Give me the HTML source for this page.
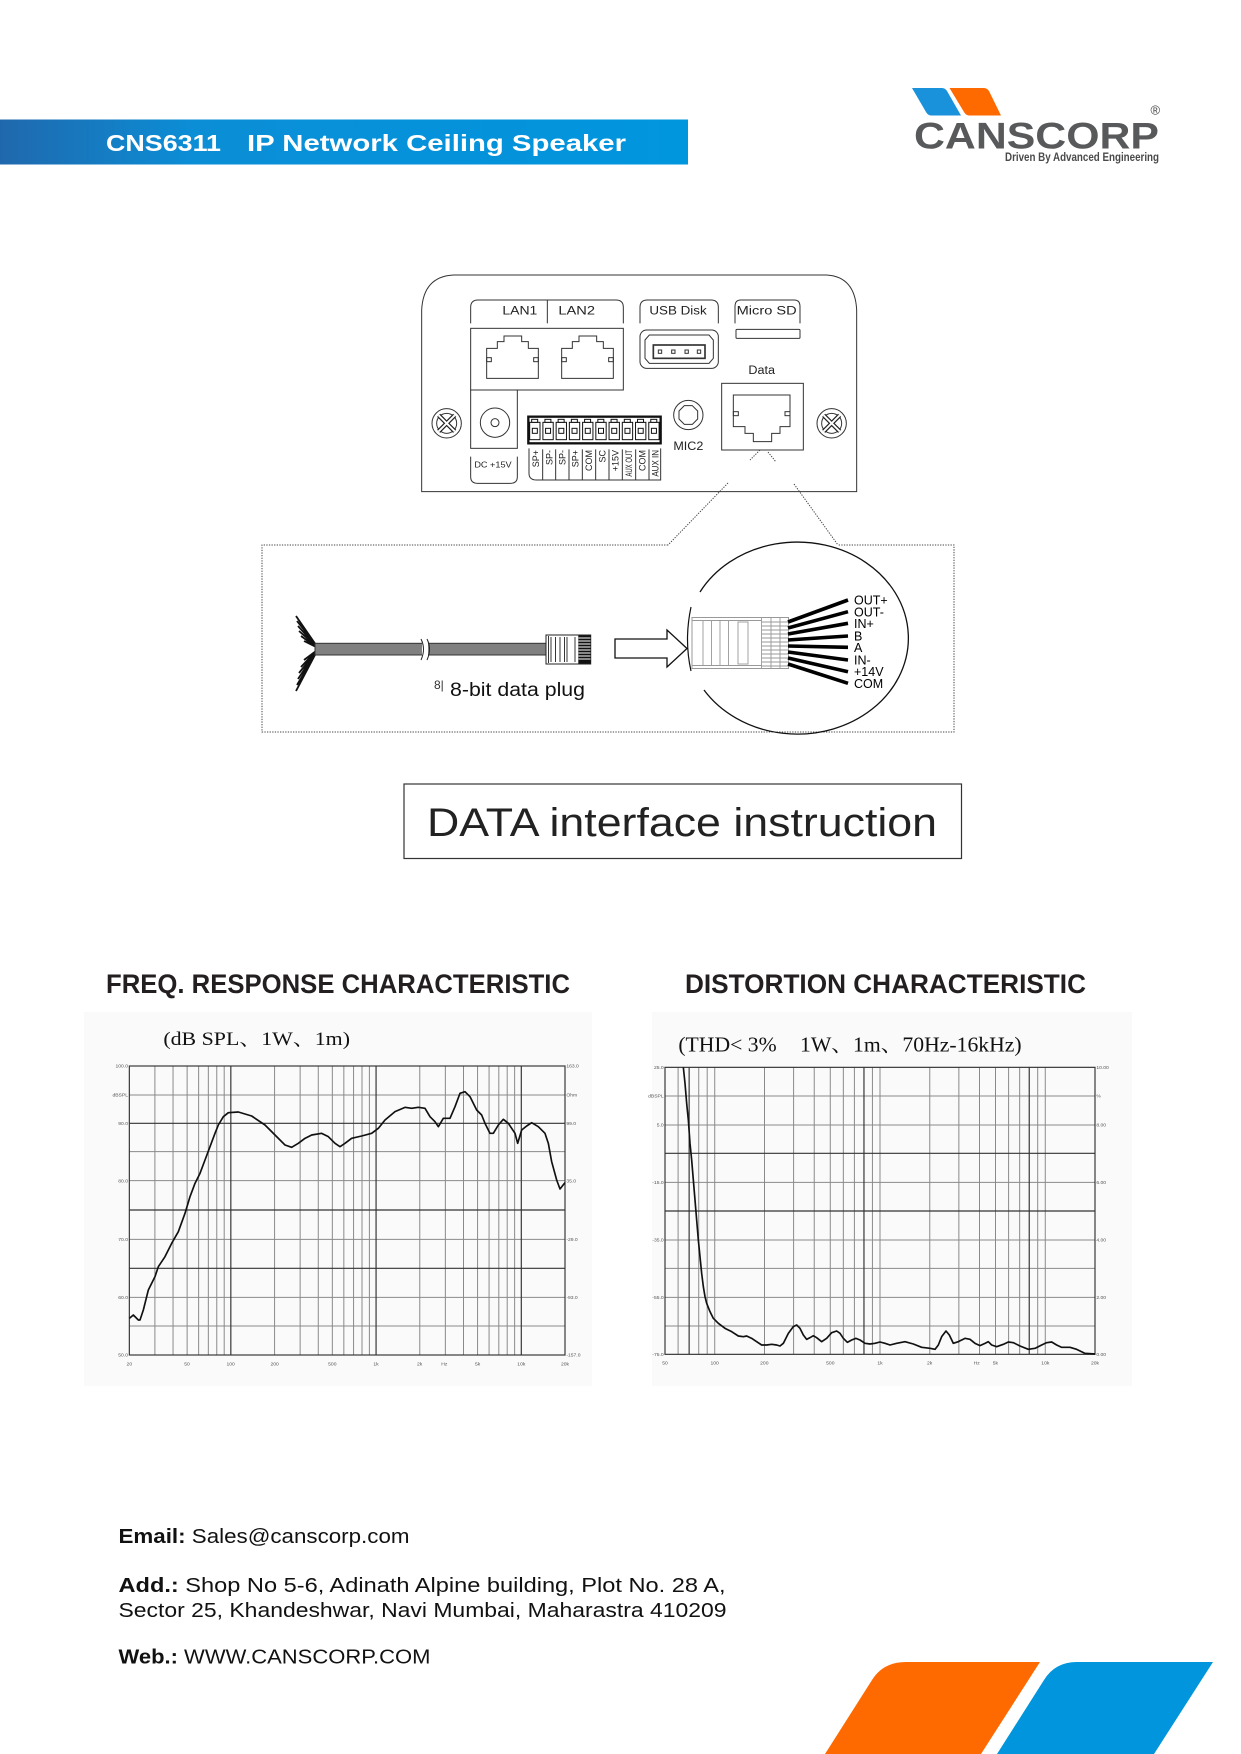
<!DOCTYPE html>
<html><head><meta charset="utf-8"><title>CNS6311 IP Network Ceiling Speaker</title>
<style>
html,body{margin:0;padding:0;background:#fff;}
svg{display:block;}
</style></head>
<body>
<svg xmlns="http://www.w3.org/2000/svg" width="1241" height="1754" viewBox="0 0 1241 1754" font-family="'Liberation Sans', Arial, sans-serif">
<defs>
<linearGradient id="bn" x1="0" y1="0" x2="1" y2="0">
<stop offset="0" stop-color="#2068ad"/>
<stop offset="0.28" stop-color="#0b8ed6"/>
<stop offset="1" stop-color="#0096de"/>
</linearGradient>
</defs>
<rect width="1241" height="1754" fill="#fff"/>

<!-- Header banner -->
<rect x="0" y="119.5" width="688" height="45" fill="url(#bn)"/>
<text x="106" y="151" font-size="23" font-weight="bold" fill="#fff" textLength="115" lengthAdjust="spacingAndGlyphs">CNS6311</text>
<text x="247" y="151" font-size="23" font-weight="bold" fill="#fff" textLength="379" lengthAdjust="spacingAndGlyphs">IP Network Ceiling Speaker</text>

<!-- Logo -->
<path d="M912,88 L942,88 Q945,88 947,91 L961,115.5 L931,115.5 Q928,115.5 926,112 Z" fill="#1a92db"/>
<path d="M949.5,88 L984,88 Q987,88 989,91 L1001,115.5 L969,115.5 Q966,115.5 964,112 Z" fill="#ff6a00"/>
<text x="914" y="148.3" font-size="37" font-weight="bold" fill="#58595b" textLength="245" lengthAdjust="spacingAndGlyphs">CANSCORP</text>
<text x="1150.5" y="114.5" font-size="13" fill="#444">®</text>
<text x="1005" y="161" font-size="11.5" font-weight="bold" fill="#4a4a4a" textLength="154" lengthAdjust="spacingAndGlyphs">Driven By Advanced Engineering</text>

<!-- Panel diagram (zoom coords: orig = 410 + z/3, 260 + z/3) -->
<g transform="translate(410,260) scale(0.333333)" fill="none" stroke="#333" stroke-width="3">
<path d="M35,695 L35,150 Q40,50 130,45 L1250,45 Q1335,50 1340,150 L1340,695 Z"/>
<!-- LAN bracket -->
<path d="M182,190 L182,142 Q182,120 204,120 L618,120 Q640,120 640,142 L640,190"/>
<line x1="412" y1="120" x2="412" y2="190"/>
<g fill="#222" stroke="none" font-size="36">
<text x="277" y="163" textLength="105" lengthAdjust="spacingAndGlyphs">LAN1</text>
<text x="445" y="163" textLength="110" lengthAdjust="spacingAndGlyphs">LAN2</text>
<text x="718" y="163" textLength="172" lengthAdjust="spacingAndGlyphs">USB Disk</text>
<text x="980" y="163" textLength="180" lengthAdjust="spacingAndGlyphs">Micro SD</text>
<text x="1015" y="342" textLength="80" lengthAdjust="spacingAndGlyphs">Data</text>
<text x="790" y="570" textLength="90" lengthAdjust="spacingAndGlyphs">MIC2</text>
<text x="193" y="622" font-size="26" textLength="112" lengthAdjust="spacingAndGlyphs">DC +15V</text>
</g>
<rect x="182" y="205" width="458" height="185"/>
<rect x="182" y="390" width="140" height="175"/>
<path d="M182,590 L182,650 Q182,670 202,670 L302,670 Q322,670 322,650 L322,590"/>
<!-- RJ45 LAN1 -->
<polygon points="230,355 230,265 262,265 262,245 282,245 282,228 335,228 335,245 355,245 355,265 385,265 385,355"/>
<rect x="230" y="293" width="14" height="12"/><rect x="371" y="293" width="14" height="12"/>
<g transform="translate(225,0)">
<polygon points="230,355 230,265 262,265 262,245 282,245 282,228 335,228 335,245 355,245 355,265 385,265 385,355"/>
<rect x="230" y="293" width="14" height="12"/><rect x="371" y="293" width="14" height="12"/>
</g>
<!-- USB -->
<path d="M690,190 L690,142 Q690,120 712,120 L903,120 Q925,120 925,142 L925,190"/>
<rect x="690" y="210" width="235" height="115" rx="20"/>
<path d="M705,240 L718,225 L897,225 L910,240 L910,295 L897,310 L718,310 L705,295 Z"/>
<rect x="730" y="255" width="155" height="40" stroke-width="5"/>
<rect x="745" y="270" width="10" height="10"/><rect x="785" y="270" width="10" height="10"/>
<rect x="825" y="270" width="10" height="10"/><rect x="862" y="270" width="10" height="10"/>
<!-- Micro SD -->
<path d="M975,190 L975,140 Q975,120 992,120 L1153,120 Q1170,120 1170,140 L1170,190"/>
<rect x="978" y="208" width="192" height="27" rx="3"/>
<!-- Data jack -->
<rect x="935" y="370" width="245" height="200"/>
<path d="M970,405 L1140,405 L1140,500 L1110,500 L1110,520 L1085,520 L1085,545 L1030,545 L1030,520 L1005,520 L1005,500 L970,500 Z"/>
<rect x="970" y="455" width="15" height="12"/><rect x="1125" y="455" width="15" height="12"/>
<!-- Screws -->
<g>
<circle cx="110" cy="490" r="44"/><circle cx="110" cy="490" r="30"/>
<path d="M86,466 L134,514 M134,466 L86,514" stroke="#222" stroke-width="13"/>
<path d="M86,466 L134,514 M134,466 L86,514" stroke="#fff" stroke-width="6"/>
</g>
<g transform="translate(1155,0)">
<circle cx="110" cy="490" r="44"/><circle cx="110" cy="490" r="30"/>
<path d="M86,466 L134,514 M134,466 L86,514" stroke="#222" stroke-width="13"/>
<path d="M86,466 L134,514 M134,466 L86,514" stroke="#fff" stroke-width="6"/>
</g>
<!-- DC jack -->
<circle cx="255" cy="488" r="44"/><circle cx="255" cy="488" r="12"/>
<!-- MIC2 -->
<circle cx="835" cy="465" r="44"/>
<polygon points="847,437 863,453 863,477 847,493 823,493 807,477 807,453 823,437"/>
<!-- Terminal block -->
<rect x="355" y="470" width="397" height="80" stroke="#111" stroke-width="7"/>
<g stroke="#111">
<g id="cell"><rect x="359" y="487" width="31" height="52"/><rect x="367" y="505" width="15" height="15"/><rect x="365" y="478" width="18" height="9" fill="#fff"/></g>
<use href="#cell" x="39.7"/><use href="#cell" x="79.4"/><use href="#cell" x="119.1"/><use href="#cell" x="158.8"/>
<use href="#cell" x="198.5"/><use href="#cell" x="238.2"/><use href="#cell" x="277.9"/><use href="#cell" x="317.6"/><use href="#cell" x="357.3"/>
</g>
<path d="M357,565 L357,640 Q357,660 380,660 L752,660 L752,565"/>
<path d="M398,568 L398,660 M437,568 L437,660 M477,568 L477,660 M517,568 L517,660 M557,568 L557,660 M597,568 L597,660 M637,568 L637,660 M677,568 L677,660 M717,568 L717,660"/>
<g fill="#222" stroke="none" font-size="27" text-anchor="end">
<text transform="translate(387,570) rotate(-90)">SP+</text>
<text transform="translate(427,570) rotate(-90)">SP-</text>
<text transform="translate(466,570) rotate(-90)">SP-</text>
<text transform="translate(506,570) rotate(-90)">SP+</text>
<text transform="translate(546,570) rotate(-90)">COM</text>
<text transform="translate(586,570) rotate(-90)">SC</text>
<text transform="translate(626,570) rotate(-90)">+15V</text>
<text transform="translate(666,570) rotate(-90)" textLength="80" lengthAdjust="spacingAndGlyphs">AUX OUT</text>
<text transform="translate(706,570) rotate(-90)">COM</text>
<text transform="translate(745,570) rotate(-90)" textLength="80" lengthAdjust="spacingAndGlyphs">AUX IN</text>
</g>
</g>

<!-- Dotted connector lines -->
<g stroke="#444" stroke-width="1" stroke-dasharray="1.3 1.3" fill="none">
<path d="M760,450 L750,460 M728,483 L668,545"/>
<path d="M768,452 L776,462 M794,484 L838,545"/>
<path d="M668,545 L262,545 L262,732 L954,732 L954,545 L838,545"/>
</g>

<!-- Cable -->
<g stroke="#111" stroke-width="1.8">
<path d="M316,645 L296,616 M316,645 L297,621 M316,646 L298,626 M316,646 L299,631 M316,647 L301,636 M316,647 L304,641"/>
<path d="M316,653 L296,691 M316,653 L297,685 M316,652 L298,679 M316,652 L299,673 M316,651 L301,667 M316,651 L304,660"/>
</g>
<rect x="315" y="643.3" width="231" height="11.7" fill="#808080" stroke="#333" stroke-width="1"/>
<rect x="422" y="642" width="6" height="14.5" fill="#fff"/>
<path d="M421,639 Q426,649 421,660 M427,639 Q432,649 427,660" fill="none" stroke="#222" stroke-width="1"/>
<rect x="546" y="635" width="44.7" height="29" fill="#fff" stroke="#222" stroke-width="1"/>
<path d="M548.5,636 L548.5,663 M551,637 L551,662 M555.5,637 L555.5,662 M560,637 L560,662 M564.5,637 L564.5,662 M567,637 L567,662 M575,637 L575,662" stroke="#222" stroke-width="0.9"/>
<rect x="578.3" y="635.5" width="12.4" height="28" fill="#111"/>
<path d="M578.5,638 L590.5,638 M578.5,641 L590.5,641 M578.5,644 L590.5,644 M578.5,647 L590.5,647 M578.5,650 L590.5,650 M578.5,653 L590.5,653 M578.5,656 L590.5,656 M578.5,659 L590.5,659" stroke="#fff" stroke-width="1"/>
<text x="434" y="689" font-size="12" fill="#333">8|</text>
<text x="450" y="696" font-size="19" fill="#111" textLength="135" lengthAdjust="spacingAndGlyphs">8-bit data plug</text>

<!-- Hollow arrow -->
<polygon points="615,639 667,639 667,630 687,648.5 667,667 667,658 615,658" fill="#fff" stroke="#111" stroke-width="1.3"/>

<!-- Zoom circle -->
<path d="M700,592 A111 96 0 1 1 704,690" fill="none" stroke="#111" stroke-width="1.3"/>
<path d="M691,607 Q684,640 691,671" fill="none" stroke="#111" stroke-width="1.2"/>
<rect x="692" y="617.5" width="96.5" height="51" fill="#fff" stroke="#999" stroke-width="1"/>
<g stroke="#999" stroke-width="0.9" fill="none">
<path d="M692,620.5 L762,620.5 M692,665.5 L762,665.5"/>
<path d="M703,620.5 L703,665.5 M711.5,620.5 L711.5,665.5 M720,620.5 L720,665.5 M728.5,620.5 L728.5,665.5"/>
<rect x="738" y="622" width="10" height="42"/>
<path d="M761.5,617.5 L761.5,668.5"/>
<path d="M762,622 L788,622 M762,626 L788,626 M762,630 L788,630 M762,634 L788,634 M762,638 L788,638 M762,642 L788,642 M762,646 L788,646 M762,650 L788,650 M762,654 L788,654 M762,658 L788,658 M762,662 L788,662 M762,666 L788,666"/>
<path d="M771,618 L771,668 M780,618 L780,668"/>
</g>
<g stroke="#000" stroke-width="3.6" stroke-linecap="butt">
<line x1="788" y1="622" x2="848" y2="600"/>
<line x1="788" y1="628" x2="848" y2="611.7"/>
<line x1="788" y1="634" x2="848" y2="623.3"/>
<line x1="788" y1="640" x2="848" y2="636"/>
<line x1="788" y1="646" x2="848" y2="647.3"/>
<line x1="788" y1="652" x2="848" y2="660"/>
<line x1="788" y1="658" x2="848" y2="671.7"/>
<line x1="788" y1="664" x2="848" y2="683.3"/>
</g>
<g font-size="12.5" fill="#000">
<text x="854" y="604.5">OUT+</text>
<text x="854" y="616.5">OUT-</text>
<text x="854" y="628">IN+</text>
<text x="854" y="640.5">B</text>
<text x="854" y="652">A</text>
<text x="854" y="664.5">IN-</text>
<text x="854" y="676">+14V</text>
<text x="854" y="688">COM</text>
</g>

<!-- DATA interface instruction -->
<rect x="404" y="784" width="557.5" height="74.5" fill="#fff" stroke="#333" stroke-width="1.2"/>
<text x="427" y="836" font-size="40" fill="#222" textLength="510" lengthAdjust="spacingAndGlyphs">DATA interface instruction</text>

<!-- Section titles -->
<text x="106" y="993" font-size="27" font-weight="bold" fill="#231f20" textLength="464" lengthAdjust="spacingAndGlyphs">FREQ. RESPONSE CHARACTERISTIC</text>
<text x="685" y="993" font-size="27" font-weight="bold" fill="#231f20" textLength="401" lengthAdjust="spacingAndGlyphs">DISTORTION CHARACTERISTIC</text>

<!-- Chart backgrounds -->
<rect x="84" y="1012" width="508" height="374" fill="#fafafa"/>
<rect x="652" y="1012" width="480" height="374" fill="#fafafa"/>

<!-- Freq response chart (zoom coords: orig = 85 + z/3, 1010 + z/3) -->
<g transform="translate(85,1010) scale(0.333333)">
<text x="235" y="105" font-size="58" font-family="'Liberation Serif','Noto Serif CJK SC',serif" fill="#111" textLength="560" lengthAdjust="spacingAndGlyphs">(dB SPL、1W、1m)</text>
<g stroke="#8a8a8a" stroke-width="3" fill="none">
<path d="M133,255 H1440 M133,425 H1440 M133,512 H1440 M133,688 H1440 M133,862 H1440 M133,948 H1440"/>
<path d="M209.7,168 V1035 M264.1,168 V1035 M306.4,168 V1035 M340.9,168 V1035 M370,168 V1035 M395.3,168 V1035 M417.6,168 V1035 M568.7,168 V1035 M645.4,168 V1035 M699.8,168 V1035 M742,168 V1035 M776.5,168 V1035 M805.7,168 V1035 M831,168 V1035 M853.2,168 V1035 M1004.3,168 V1035 M1081.1,168 V1035 M1135.5,168 V1035 M1177.7,168 V1035 M1212.2,168 V1035 M1241.4,168 V1035 M1266.6,168 V1035 M1288.9,168 V1035"/>
</g>
<g stroke="#333" stroke-width="3.5" fill="none">
<path d="M133,340 H1440 M133,600 H1440 M133,775 H1440"/>
<path d="M437.5,168 V1035 M873.2,168 V1035 M1308.9,168 V1035"/>
<rect x="133" y="168" width="1307" height="867"/>
</g>
<g font-size="15" fill="#555" text-anchor="end">
<text x="129" y="173">100.0</text><text x="129" y="259">dBSPL</text><text x="129" y="345">90.0</text>
<text x="129" y="517">80.0</text><text x="129" y="693">70.0</text><text x="129" y="867">60.0</text><text x="129" y="1040">50.0</text>
</g>
<g font-size="15" fill="#555">
<text x="1444" y="173">163.0</text><text x="1444" y="259">Ohm</text><text x="1444" y="345">99.0</text>
<text x="1444" y="517">35.0</text><text x="1444" y="693">-29.0</text><text x="1444" y="867">-93.0</text><text x="1444" y="1040">-157.0</text>
</g>
<g font-size="15" fill="#555" text-anchor="middle">
<text x="133" y="1066">20</text><text x="306" y="1066">50</text><text x="437" y="1066">100</text><text x="569" y="1066">200</text>
<text x="742" y="1066">500</text><text x="873" y="1066">1k</text><text x="1004" y="1066">2k</text><text x="1078" y="1066">Hz</text>
<text x="1178" y="1066">5k</text><text x="1309" y="1066">10k</text><text x="1440" y="1066">20k</text>
</g>
<polyline fill="none" stroke="#111" stroke-width="5" stroke-linejoin="round" points="133,925 145,915 160,930 165,930 175,900 190,840 210,800 220,770 240,740 260,700 280,665 300,610 315,560 330,520 345,490 360,450 375,410 390,370 400,345 415,320 430,308 460,306 480,312 500,318 540,345 570,375 600,405 620,412 640,400 660,385 680,375 710,370 730,380 750,400 765,410 780,400 800,385 830,378 860,370 880,355 900,330 930,305 960,292 980,295 1000,292 1020,295 1035,320 1050,335 1060,350 1075,325 1095,325 1110,290 1125,250 1140,245 1155,260 1175,300 1190,315 1200,340 1215,370 1225,370 1240,345 1255,328 1270,340 1290,370 1298,400 1310,360 1325,348 1340,338 1360,350 1380,370 1390,400 1400,455 1415,510 1425,537 1440,518"/>
</g>

<!-- Distortion chart (zoom coords: orig = 640 + z/3, 1010 + z/3) -->
<g transform="translate(640,1010) scale(0.333333)">
<text x="115" y="125" font-size="62" font-family="'Liberation Serif','Noto Serif CJK SC',serif" fill="#111" textLength="295" lengthAdjust="spacingAndGlyphs">(THD&lt; 3%</text>
<text x="480" y="125" font-size="62" font-family="'Liberation Serif','Noto Serif CJK SC',serif" fill="#111" textLength="665" lengthAdjust="spacingAndGlyphs">1W、1m、70Hz-16kHz)</text>
<g stroke="#8a8a8a" stroke-width="3" fill="none">
<path d="M75,258 H1365 M75,345 H1365 M75,517 H1365 M75,690 H1365 M75,775 H1365 M75,862 H1365 M75,948 H1365"/>
<path d="M114.3,172 V1033 M176.2,172 V1033 M201.6,172 V1033 M224.2,172 V1033 M373.5,172 V1033 M460.8,172 V1033 M522.7,172 V1033 M570.8,172 V1033 M610,172 V1033 M643.2,172 V1033 M697.3,172 V1033 M720,172 V1033 M869.3,172 V1033 M956.6,172 V1033 M1018.5,172 V1033 M1066.5,172 V1033 M1105.8,172 V1033 M1139,172 V1033 M1193.1,172 V1033 M1215.8,172 V1033"/>
</g>
<g stroke="#333" stroke-width="3.5" fill="none">
<path d="M75,430 H1365 M75,603 H1365"/>
<path d="M147.4,172 V1033 M671.9,172 V1033 M1167.7,172 V1033"/>
<rect x="75" y="172" width="1290" height="861"/>
</g>
<g font-size="15" fill="#555" text-anchor="end">
<text x="71" y="177">25.0</text><text x="71" y="263">dBSPL</text><text x="71" y="350">5.0</text>
<text x="71" y="522">-15.0</text><text x="71" y="695">-35.0</text><text x="71" y="867">-55.0</text><text x="71" y="1038">-75.0</text>
</g>
<g font-size="15" fill="#555">
<text x="1369" y="177">10.00</text><text x="1369" y="263">%</text><text x="1369" y="350">8.00</text>
<text x="1369" y="522">6.00</text><text x="1369" y="695">4.00</text><text x="1369" y="867">2.00</text><text x="1369" y="1038">0.00</text>
</g>
<g font-size="15" fill="#555" text-anchor="middle">
<text x="75" y="1064">50</text><text x="224" y="1064">100</text><text x="373" y="1064">200</text><text x="571" y="1064">500</text>
<text x="720" y="1064">1k</text><text x="869" y="1064">2k</text><text x="1010" y="1064">Hz</text><text x="1066" y="1064">5k</text>
<text x="1216" y="1064">10k</text><text x="1365" y="1064">20k</text>
</g>
<polyline fill="none" stroke="#111" stroke-width="5" stroke-linejoin="round" points="130,172 135,220 140,280 145,330 150,400 155,450 160,510 165,570 170,630 175,690 180,740 185,790 190,830 195,860 200,880 210,905 220,925 235,940 255,955 275,965 295,978 310,980 320,978 335,985 350,995 365,1005 380,1005 395,1003 410,1005 420,1008 430,1000 445,970 460,950 470,945 480,955 490,975 500,988 510,983 520,977 530,983 545,995 560,985 575,968 590,963 600,970 610,985 622,997 635,990 648,985 660,990 675,1000 690,1002 705,1000 720,996 735,1000 750,1005 770,1000 795,995 820,1002 845,1012 870,1015 885,1018 895,1005 905,980 918,963 928,975 940,1000 955,995 975,985 990,988 1005,1000 1020,1007 1035,1000 1045,995 1055,1005 1070,1010 1090,1003 1105,996 1120,998 1140,1008 1165,1018 1185,1015 1205,1005 1220,998 1235,996 1250,1005 1265,1012 1290,1012 1310,1018 1335,1030 1365,1032"/>
</g>

<!-- Footer contact -->
<g font-size="20" fill="#111">
<text x="118.5" y="1543" textLength="291" lengthAdjust="spacingAndGlyphs"><tspan font-weight="bold">Email:</tspan> Sales@canscorp.com</text>
<text x="118.5" y="1592" textLength="607" lengthAdjust="spacingAndGlyphs"><tspan font-weight="bold">Add.:</tspan> Shop No 5-6, Adinath Alpine building, Plot No. 28 A,</text>
<text x="118.5" y="1617" textLength="608" lengthAdjust="spacingAndGlyphs">Sector 25, Khandeshwar, Navi Mumbai, Maharastra 410209</text>
<text x="118.5" y="1663.5" textLength="312" lengthAdjust="spacingAndGlyphs"><tspan font-weight="bold">Web.:</tspan> WWW.CANSCORP.COM</text>
</g>

<!-- Footer shapes -->
<path d="M825,1754 L872,1680 Q883,1662 906,1662 L1040,1662 L981,1754 Z" fill="#ff6a00"/>
<path d="M997,1754 L1044,1680 Q1055,1662 1077,1662 L1213,1662 L1154,1754 Z" fill="#0095dc"/>
</svg>
</body></html>
